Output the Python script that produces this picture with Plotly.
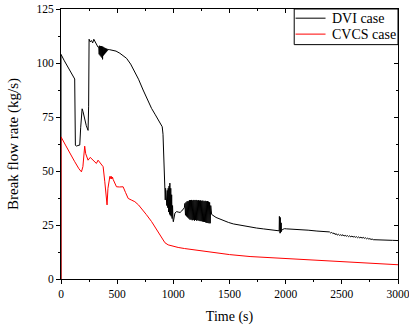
import plotly.graph_objects as go

# ---------------- data ----------------
dvi_time = [0, 0, 30, 60, 90, 122, 128, 137, 150, 167, 175, 182, 188, 196, 210, 225, 241, 246, 250, 260, 271, 282, 292, 300, 316, 330,
            336, 340, 344, 348, 352, 356, 360, 364, 368, 370, 374, 378, 382, 386, 390, 394, 398, 402, 406, 410, 414, 418,
            430, 460, 490, 524, 555, 583, 620, 657, 690, 731, 770, 806, 840, 865, 890, 901, 908, 914, 920, 925,
            928, 931, 934, 938, 942, 946, 950, 954, 958, 962, 966, 969, 973, 977, 981, 985, 989, 993, 997, 1000,
            1014, 1029, 1043, 1060, 1075, 1088, 1098,
            1103, 1108, 1113, 1118, 1123, 1128, 1133, 1138, 1143, 1148, 1153, 1158, 1163, 1168, 1173, 1178, 1183, 1188,
            1193, 1198, 1203, 1208, 1213, 1218, 1223, 1228, 1233, 1238, 1243, 1248, 1253, 1258, 1263, 1268, 1273, 1278,
            1283, 1288, 1293, 1298, 1303, 1308, 1313, 1318, 1323, 1328, 1333,
            1341, 1380, 1445, 1490, 1534, 1600, 1683, 1740, 1801, 1870, 1935, 1942,
            1944, 1946, 1948, 1950, 1952, 1954, 1956, 1958, 1960, 1962, 1965,
            1975, 1990, 2010, 2060, 2128, 2200, 2278, 2340,
            2380, 2390, 2400, 2410, 2420, 2430, 2440, 2450, 2460, 2470, 2480, 2490, 2500, 2510, 2520, 2530, 2540, 2550,
            2560, 2570, 2580, 2590, 2600, 2610, 2620, 2630, 2640, 2650, 2660, 2670, 2680, 2690, 2700, 2710, 2720, 2730,
            2740, 2750, 2760, 2770, 2780,
            2800, 2850, 2900, 2950, 3000]
dvi_flow = [0, 104, 101, 98.2, 95.5, 92.6, 62, 61.5, 61.8, 62, 70, 76.5, 78.8, 77.5, 74, 71, 68.8, 80, 111, 109.8, 110.4, 109.3, 111, 110.3, 108.5, 107.3,
            107.5, 104, 108, 103.5, 107.8, 103, 107.8, 102.5, 107.6, 101.7, 107.5, 103.5, 107.2, 104, 107, 104.5, 106.8, 105, 106.6, 105.5, 106.4, 106.2,
            106.2, 106, 105.5, 104.5, 103.5, 102.2, 99.5, 96, 92.5, 87.5, 83, 79, 76, 74, 72, 70.5, 67, 58, 47, 40,
            36.6, 42, 37, 40, 34, 41, 33, 42, 31, 43, 30, 44.4, 29.5, 42, 29, 39, 28, 34, 27.5, 26.5,
            30.5, 31.2, 31, 30.8, 31.5, 32.2, 33,
            35, 29.5, 35.5, 29, 36, 28.5, 36, 28, 36.5, 27.5, 36.5, 27.5, 36.6, 27.2, 36.4, 27.4, 36.6, 27,
            36.5, 27.3, 36.6, 27, 36.4, 27.2, 36.5, 27, 36.3, 26.8, 36.4, 26.8, 36.2, 26.6, 36.3, 26.5, 36, 26.4,
            36.2, 26.2, 36, 26, 36.1, 25.9, 35.8, 25.8, 35.5, 25.8, 34,
            29.9, 28.5, 27, 26.2, 25.5, 24.8, 24, 23.6, 23.2, 22.8, 22.4, 22.3,
            29, 21.5, 28.8, 21.2, 28.5, 21.5, 27.5, 21.8, 26, 22, 22.6,
            23, 23.3, 23.2, 23.1, 22.9, 22.6, 22.2, 21.9,
            21.6, 21.8, 21.3, 21.6, 21.0, 21.3, 20.6, 21.0, 20.3, 20.7, 20.2, 20.5, 20.1, 20.5, 19.9, 20.2, 19.8, 20.1,
            19.6, 20.0, 19.5, 19.9, 19.4, 19.7, 19.3, 19.6, 19.1, 19.5, 19.0, 19.4, 18.9, 19.3, 18.8, 19.1, 18.6, 18.9,
            18.5, 18.7, 18.3, 18.5, 18.2,
            18.2, 18.1, 18.0, 17.9, 17.8]

cvcs_time = [0, 0, 40, 80, 120, 160, 182, 195, 205, 211, 220, 241, 260, 280, 300, 315, 330, 345, 360, 375, 390, 400, 410,
             418, 428, 435, 440, 446, 452, 458, 465, 480, 494, 520, 553, 575, 598, 625, 657, 690, 717, 760, 806, 850,
             895, 925, 954, 1000, 1043, 1100, 1200, 1371, 1500, 1683, 1900, 2128, 2300, 2500, 2750, 3000]
cvcs_flow = [0, 65.8, 62, 58, 54.5, 51, 49.6, 52, 58, 61.5, 58, 55, 56.3, 55.2, 54.3, 53.5, 55, 54, 52.5, 52, 45, 38, 34.3,
             42, 46.1, 47.5, 46.5, 47.6, 46.3, 47.2, 46, 44.5, 42.7, 42.6, 42.7, 40, 37.3, 36.6, 35.8, 34.3, 32.7, 29.8, 26.6, 23,
             18.9, 16.8, 15.8, 15, 14.6, 14.1, 13.4, 12, 11.3, 10.4, 9.8, 9.2, 8.7, 8.1, 7.3, 6.6]

x_ticks = [0, 500, 1000, 1500, 2000, 2500, 3000]
y_ticks = [0, 25, 50, 75, 100, 125]
series_names = ["DVI case", "CVCS case"]
series_colors = ["black", "red"]

# ---------------- figure ----------------
FONT = "Liberation Serif"
TICKFONT = dict(family=FONT, size=11.5, color="black")

fig = go.Figure()
fig.add_trace(go.Scatter(x=dvi_time, y=dvi_flow, mode="lines", name=series_names[0],
                         line=dict(color=series_colors[0], width=1), showlegend=False))
fig.add_trace(go.Scatter(x=cvcs_time, y=cvcs_flow, mode="lines", name=series_names[1],
                         line=dict(color=series_colors[1], width=1), showlegend=False))
# invisible trace to anchor the mirrored (top/right) axes
fig.add_trace(go.Scatter(x=[None], y=[None], xaxis="x2", yaxis="y2", showlegend=False, hoverinfo="skip"))

common = dict(showgrid=False, zeroline=False, showline=True, linecolor="black", linewidth=1,
              tickcolor="black", tickwidth=1, tickfont=TICKFONT, automargin=False)

# compact boxed legend (Origin style) in the top-right corner of the plot area
LEG_X0, LEG_X1, LEG_Y0, LEG_Y1 = 0.692, 1.0, 0.868, 1.0
row_y = [0.966, 0.907]
shapes = [dict(type="rect", xref="paper", yref="paper", x0=LEG_X0, x1=LEG_X1, y0=LEG_Y0, y1=LEG_Y1,
               line=dict(color="black", width=1), fillcolor="white", layer="above")]
annotations = []
for name, col, yy in zip(series_names, series_colors, row_y):
    shapes.append(dict(type="line", xref="paper", yref="paper", x0=LEG_X0 + 0.004, x1=LEG_X0 + 0.093,
                       y0=yy, y1=yy, line=dict(color=col, width=1), layer="above"))
    annotations.append(dict(xref="paper", yref="paper", x=LEG_X0 + 0.105, y=yy, text=name, showarrow=False,
                            xanchor="left", yanchor="middle", font=dict(family=FONT, size=14, color="black")))

fig.update_layout(
    width=409, height=326, autosize=False,
    margin=dict(l=61, r=11, t=9, b=47, pad=0),
    paper_bgcolor="white", plot_bgcolor="white",
    font=dict(family=FONT, size=11.5, color="black"),
    showlegend=False,
    shapes=shapes, annotations=annotations,
    xaxis=dict(range=[0, 3000], tickvals=x_ticks, ticks="outside", ticklen=4, layer="below traces",
               ticklabeloverflow="allow",
               minor=dict(ticks="outside", ticklen=2, dtick=250, tickcolor="black"),
               title=dict(text="Time (s)", font=dict(family=FONT, size=14), standoff=12), **common),
    yaxis=dict(range=[0, 125], tickvals=y_ticks, ticks="outside", ticklen=4, layer="below traces",
               ticklabeloverflow="allow",
               minor=dict(ticks="outside", ticklen=2, dtick=12.5, tickcolor="black"),
               title=dict(text="Break flow rate (kg/s)", font=dict(family=FONT, size=15), standoff=14), **common),
    xaxis2=dict(range=[0, 3000], overlaying="x", side="top", tickvals=x_ticks, ticks="inside", ticklen=4,
                showticklabels=False, minor=dict(ticks="inside", ticklen=2, dtick=250, tickcolor="black"),
                anchor="y2", **common),
    yaxis2=dict(range=[0, 125], overlaying="y", side="right", tickvals=y_ticks, ticks="inside", ticklen=4,
                showticklabels=False, minor=dict(ticks="inside", ticklen=2, dtick=12.5, tickcolor="black"),
                anchor="x2", **common),
)

fig.write_html("out.html")
